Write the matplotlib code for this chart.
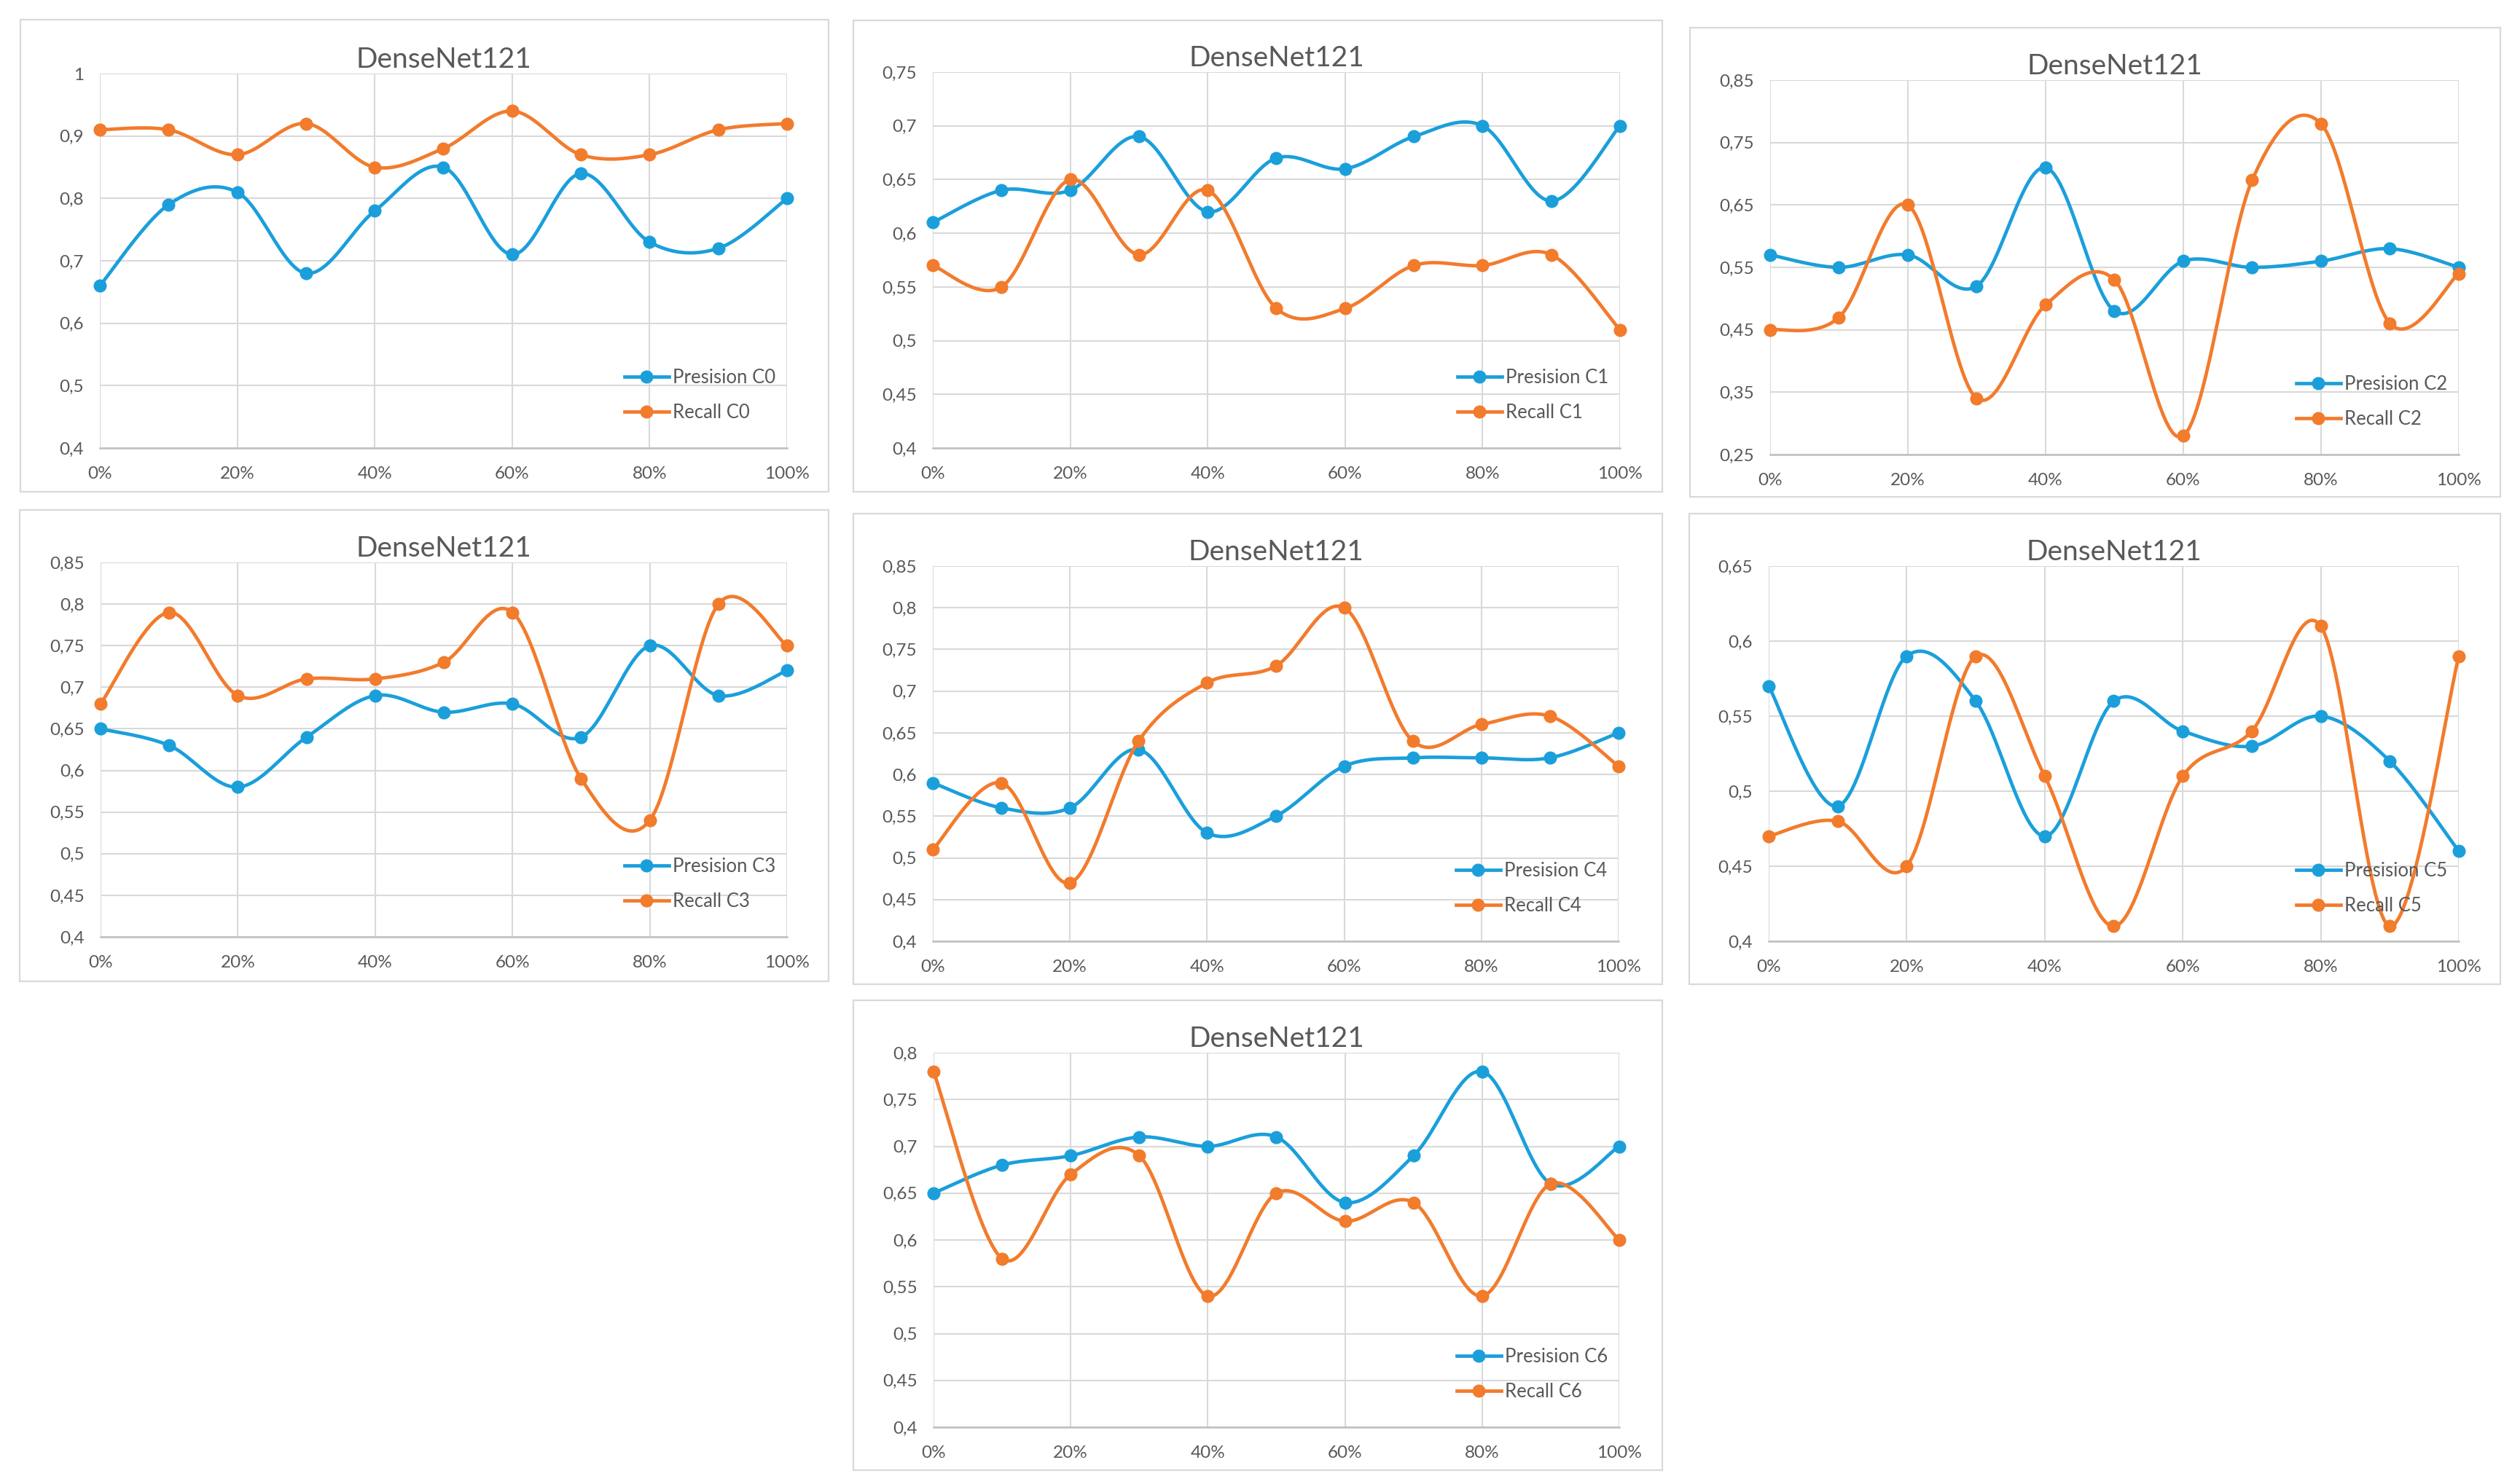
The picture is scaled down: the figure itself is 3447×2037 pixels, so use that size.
import numpy as np
import matplotlib
matplotlib.use('Agg')
import matplotlib.pyplot as plt
from matplotlib.lines import Line2D
from matplotlib.patches import Rectangle
from matplotlib.ticker import FuncFormatter

plt.rcParams['font.family'] = ['Lato', 'DejaVu Sans']

# dati (percentuale 0..100 step 10)
x_pct = [0, 10, 20, 30, 40, 50, 60, 70, 80, 90, 100]
x_ticks = [0, 20, 40, 60, 80, 100]

prec_c0 = [0.66, 0.79, 0.81, 0.68, 0.78, 0.85, 0.71, 0.84, 0.73, 0.72, 0.80]
rec_c0 = [0.91, 0.91, 0.87, 0.92, 0.85, 0.88, 0.94, 0.87, 0.87, 0.91, 0.92]
prec_c1 = [0.61, 0.64, 0.64, 0.69, 0.62, 0.67, 0.66, 0.69, 0.70, 0.63, 0.70]
rec_c1 = [0.57, 0.55, 0.65, 0.58, 0.64, 0.53, 0.53, 0.57, 0.57, 0.58, 0.51]
prec_c2 = [0.57, 0.55, 0.57, 0.52, 0.71, 0.48, 0.56, 0.55, 0.56, 0.58, 0.55]
rec_c2 = [0.45, 0.47, 0.65, 0.34, 0.49, 0.53, 0.28, 0.69, 0.78, 0.46, 0.54]
prec_c3 = [0.65, 0.63, 0.58, 0.64, 0.69, 0.67, 0.68, 0.64, 0.75, 0.69, 0.72]
rec_c3 = [0.68, 0.79, 0.69, 0.71, 0.71, 0.73, 0.79, 0.59, 0.54, 0.80, 0.75]
prec_c4 = [0.59, 0.56, 0.56, 0.63, 0.53, 0.55, 0.61, 0.62, 0.62, 0.62, 0.65]
rec_c4 = [0.51, 0.59, 0.47, 0.64, 0.71, 0.73, 0.80, 0.64, 0.66, 0.67, 0.61]
prec_c5 = [0.57, 0.49, 0.59, 0.56, 0.47, 0.56, 0.54, 0.53, 0.55, 0.52, 0.46]
rec_c5 = [0.47, 0.48, 0.45, 0.59, 0.51, 0.41, 0.51, 0.54, 0.61, 0.41, 0.59]
prec_c6 = [0.65, 0.68, 0.69, 0.71, 0.70, 0.71, 0.64, 0.69, 0.78, 0.66, 0.70]
rec_c6 = [0.78, 0.58, 0.67, 0.69, 0.54, 0.65, 0.62, 0.64, 0.54, 0.66, 0.60]

classi = ['C0', 'C1', 'C2', 'C3', 'C4', 'C5', 'C6']
precisioni = [prec_c0, prec_c1, prec_c2, prec_c3, prec_c4, prec_c5, prec_c6]
recall = [rec_c0, rec_c1, rec_c2, rec_c3, rec_c4, rec_c5, rec_c6]
y_limiti = [(0.4, 1.0, 0.1), (0.4, 0.75, 0.05), (0.25, 0.85, 0.1), (0.4, 0.85, 0.05),
            (0.4, 0.85, 0.05), (0.4, 0.65, 0.05), (0.4, 0.8, 0.05)]

W, H = 3448, 2037
# (box sx, box top, box dx, box bottom, plot sx, plot top, plot dx, plot bottom) in pixel
pannelli = [
    (28, 27, 1137, 675, 137, 101, 1080, 615),
    (1171, 28, 2281, 675, 1280, 99, 2223, 615),
    (2319, 38, 3431, 682, 2429, 110, 3374, 624),
    (27, 700, 1137, 1347, 138, 772, 1080, 1286),
    (1171, 705, 2281, 1351, 1280, 777, 2221, 1292),
    (2318, 705, 3431, 1351, 2427, 777, 3374, 1292),
    (1171, 1373, 2281, 2018, 1281, 1445, 2222, 1959),
]

BLU = '#1A9FDB'
ARANCIO = '#F27B2C'
GRIGIO = '#595959'


def curva_liscia(x, y, n=24):
    # spline tipo Excel (Bezier Catmull-Rom)
    p = np.column_stack([x, y]).astype(float)
    p = np.vstack([p[0], p, p[-1]])
    out = []
    t = np.linspace(0, 1, n, endpoint=False)[:, None]
    for i in range(1, len(p) - 2):
        p0, p1, p2, p3 = p[i - 1], p[i], p[i + 1], p[i + 2]
        c1 = p1 + (p2 - p0) / 6
        c2 = p2 - (p3 - p1) / 6
        seg = ((1 - t) ** 3) * p1 + 3 * ((1 - t) ** 2) * t * c1 + 3 * (1 - t) * t ** 2 * c2 + t ** 3 * p2
        out.append(seg)
    out.append(p[-2][None, :])
    out = np.vstack(out)
    return out[:, 0], out[:, 1]


fig = plt.figure(figsize=(W / 100, H / 100), dpi=100)

for k in range(7):
    bx0, by0, bx1, by1, px0, py0, px1, py1 = pannelli[k]
    fig.patches.append(Rectangle((bx0 / W, 1 - by1 / H), (bx1 - bx0) / W, (by1 - by0) / H,
                                 transform=fig.transFigure, fill=False,
                                 edgecolor='#D9D9D9', linewidth=1.6))
    ax = fig.add_axes([px0 / W, 1 - py1 / H, (px1 - px0) / W, (py1 - py0) / H])
    ymin, ymax, passo = y_limiti[k]
    ax.set_xlim(0, 100)
    ax.set_ylim(ymin, ymax)
    ax.set_yticks(np.round(np.arange(ymin, ymax + passo / 2, passo), 2))
    ax.set_xticks(x_ticks)
    ax.xaxis.set_major_formatter(FuncFormatter(lambda v, p: f"{v:.0f}%"))
    ax.yaxis.set_major_formatter(FuncFormatter(lambda v, p: f"{round(v, 2):g}".replace('.', ',')))
    ax.grid(True, color='#D9D9D9', linewidth=1.5)
    ax.set_axisbelow(True)
    for s in ['top', 'right', 'left']:
        ax.spines[s].set_visible(False)
    ax.spines['bottom'].set_color('#BFBFBF')
    ax.spines['bottom'].set_linewidth(1.8)
    ax.tick_params(length=0, labelsize=17.5, colors=GRIGIO)
    ax.tick_params(axis='x', pad=18)
    ax.tick_params(axis='y', pad=16)

    for serie, col in [(precisioni[k], BLU), (recall[k], ARANCIO)]:
        xs, ys = curva_liscia(x_pct, serie)
        ax.plot(xs, ys, color=col, linewidth=3.4, solid_capstyle='round', clip_on=False)
        ax.plot(x_pct, serie, linestyle='none', marker='o', markersize=12, color=col, clip_on=False)

    ax.set_title('DenseNet121', fontsize=28, color=GRIGIO, pad=6)
    maniglie = [Line2D([], [], color=BLU, linewidth=3.4, marker='o', markersize=12),
                Line2D([], [], color=ARANCIO, linewidth=3.4, marker='o', markersize=12)]
    ax.legend(maniglie, ['Presision ' + classi[k], 'Recall ' + classi[k]], loc='lower right',
              bbox_to_anchor=(1.0, 0.04), frameon=False, fontsize=18.5, labelcolor=GRIGIO,
              handlelength=2.4, handletextpad=0.2, labelspacing=0.9, borderaxespad=0.2)

fig.savefig('out.png', dpi=100, facecolor='white')
